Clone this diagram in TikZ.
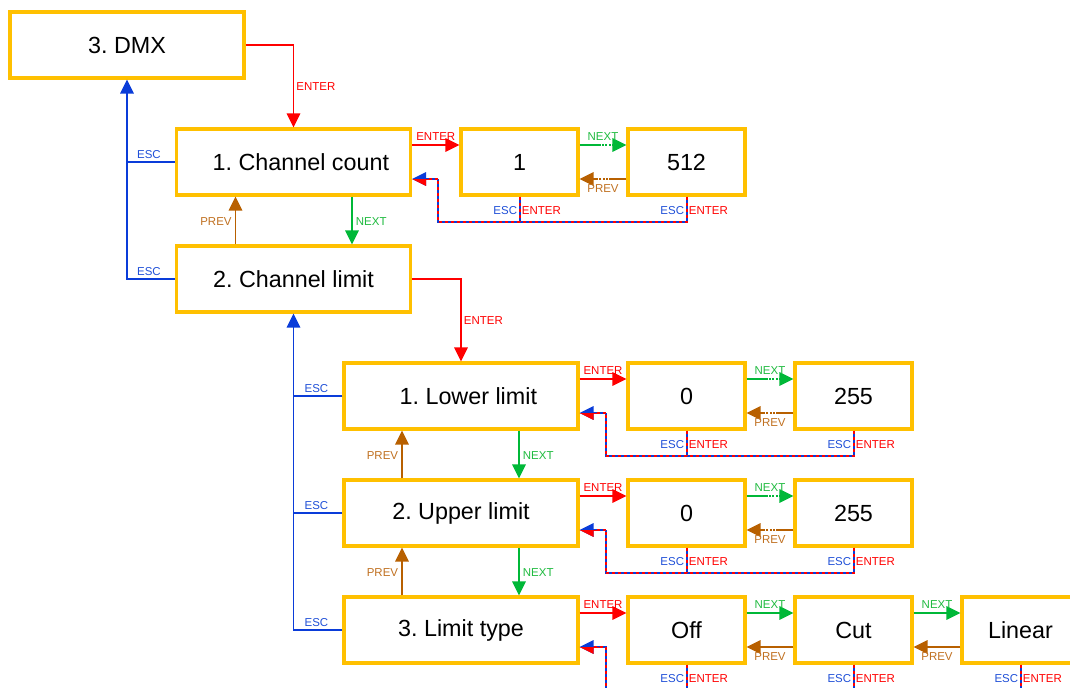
\documentclass[tikz,border=0pt]{standalone}
\usepackage{fontspec}
\setmainfont{Liberation Sans}
\usetikzlibrary{arrows.meta,calc}
\definecolor{boxo}{HTML}{FFC000}
\definecolor{cred}{HTML}{FF0000}
\definecolor{cblue}{HTML}{0A3CD9}
\definecolor{cgreen}{HTML}{00B838}
\definecolor{cbrown}{HTML}{B86000}
\definecolor{tblue}{HTML}{2050D8}
\definecolor{tgreen}{HTML}{20BB40}
\definecolor{tbrown}{HTML}{C07020}
\newcommand\myreturnend[2]{% start coordinate, main node
  \draw[retblue,-{Triangle[length=10.5pt,width=10pt]}] (#1) |- ($(#2.east)+(0,17)$);
  \begin{scope}
    \clip ($(#2.east)+(0,17)$) rectangle ($(#2.east)+(20,30)$);
    \draw[retblue,draw=cred,-{Triangle[length=10.5pt,width=10pt]}] (#1) |- ($(#2.east)+(0,17)$);
  \end{scope}
  \draw[retred] (#1) |- ($(#2.east)+(14,17)$);
}
\newcommand\myreturn[3]{%
  \coordinate (tmpa) at ($(#3.south)+(0,25.5)$);
  \coordinate (tmpb) at ($(#1.east)+(26,17)$);
  \draw[retblue] (#3.south) -- (tmpa) -| (tmpb);
  \draw[retred] (#3.south) -- (tmpa) -| (tmpb);
  \myreturnend{tmpb}{#1}
  \draw[retblue] (#2.south) -- ++(0,25.5);
  \draw[retred] (#2.south) -- ++(0,25.5);
  \node[lab,text=tblue,anchor=east] at ($(#2.south)+(-1.5,14)$) {ESC};
  \node[lab,text=cred,anchor=west] at ($(#2.south)+(1.5,14)$) {ENTER};
  \node[lab,text=tblue,anchor=east] at ($(#3.south)+(-1.5,14)$) {ESC};
  \node[lab,text=cred,anchor=west] at ($(#3.south)+(1.5,14)$) {ENTER};
}
\begin{document}
\frenchspacing
\begin{tikzpicture}[x=0.75pt,y=-0.75pt,
  box/.style={draw=boxo,line width=2.3pt,fill=white,minimum height=49.5pt,inner sep=0pt,font=\fontsize{17.5}{20}\selectfont},
  wide/.style={box,minimum width=175.5pt},
  narrow/.style={box,minimum width=87.75pt},
  conn/.style={line width=1.4pt,-{Triangle[length=10.5pt,width=10pt]}},
  cline/.style={line width=1.4pt},
  enter/.style={conn,draw=cred},
  esc/.style={conn,draw=cblue},
  nxt/.style={conn,draw=cgreen},
  prv/.style={conn,draw=cbrown},
  nextdots/.style={dash pattern=on 15.75pt off 1.1pt on 1.5pt off 1.1pt on 1.5pt off 1.1pt on 1.5pt off 1.1pt on 60pt},
  prevdots/.style={dash pattern=on 12.75pt off 1.1pt on 1.5pt off 1.1pt on 1.5pt off 1.1pt on 1.5pt off 1.1pt on 60pt},
  retblue/.style={line width=1.5pt,draw=cblue},
  retred/.style={line width=1.5pt,draw=cred,dash pattern=on 2.25pt off 2.25pt},
  lab/.style={font=\fontsize{8.6}{10}\selectfont,inner sep=0.5pt}
]
\clip (0,0) rectangle (1070,688);
\fill[white] (0,0) rectangle (1070,688);

% nodes
\node[wide] (dmx) at (127,45) {3. DMX};
\node[wide] (cc) at (293.5,162) {\hspace*{11pt}1. Channel count};
\node[narrow] (v1) at (519.5,162) {1};
\node[narrow] (v512) at (686.5,162) {512};
\node[wide] (cl) at (293.5,279) {2. Channel limit};
\node[wide] (ll) at (461,396) {\hspace*{11pt}1. Lower limit};
\node[narrow] (l0) at (686.5,396) {0};
\node[narrow] (l255) at (853.5,396) {255};
\node[wide] (ul) at (461,513) {2. Upper limit};
\node[narrow] (u0) at (686.5,513) {0};
\node[narrow] (u255) at (853.5,513) {255};
\node[wide] (lt) at (461,630) {3. Limit type};
\node[narrow] (off) at (686.5,630) {Off};
\node[narrow] (cut) at (853.5,630) {Cut};
\node[narrow] (lin) at (1020.5,630) {Linear};

% DMX level
\draw[enter] (dmx.east) -| (cc.north);
\node[lab,text=cred,anchor=west] at ($(cc.north)+(2,-40.5)$) {ENTER};
\draw[esc] (cl.west) -| (dmx.south);
\draw[cline,draw=cblue] (cc.west) -- (cc.west -| dmx.south);
\node[lab,text=tblue] at ($(cc.west)+(-26,-7)$) {ESC};
\node[lab,text=tblue] at ($(cl.west)+(-26,-7)$) {ESC};
\draw[prv] ($(cl.north)+(-58,0)$) -- ($(cc.south)+(-58,0)$);
\node[lab,text=tbrown,anchor=east] at ($(cc.south)+(-61,25.5)$) {PREV};
\draw[nxt] ($(cc.south)+(58.5,0)$) -- ($(cl.north)+(58.5,0)$);
\node[lab,text=tgreen,anchor=west] at ($(cc.south)+(61.5,25.5)$) {NEXT};

% channel count values
\draw[enter] ($(cc.east)+(0,-17)$) -- ($(v1.west)+(0,-17)$) node[midway,lab,text=cred,yshift=6.5pt]{ENTER};
\draw[nxt,nextdots] ($(v1.east)+(0,-17)$) -- ($(v512.west)+(0,-17)$) node[midway,lab,text=tgreen,yshift=6.5pt]{NEXT};
\draw[prv,prevdots] ($(v512.west)+(0,17)$) -- ($(v1.east)+(0,17)$) node[midway,lab,text=tbrown,yshift=-6.8pt]{PREV};
\myreturn{cc}{v1}{v512}

% channel limit
\draw[enter] (cl.east) -| (ll.north);
\node[lab,text=cred,anchor=west] at ($(ll.north)+(2,-40.5)$) {ENTER};
\draw[esc] (lt.west) -| (cl.south);
\draw[cline,draw=cblue] (ll.west) -- (ll.west -| cl.south);
\draw[cline,draw=cblue] (ul.west) -- (ul.west -| cl.south);
\node[lab,text=tblue] at ($(ll.west)+(-26,-7)$) {ESC};
\node[lab,text=tblue] at ($(ul.west)+(-26,-7)$) {ESC};
\node[lab,text=tblue] at ($(lt.west)+(-26,-7)$) {ESC};

\draw[prv] ($(ul.north)+(-59,0)$) -- ($(ll.south)+(-59,0)$);
\node[lab,text=tbrown,anchor=east] at ($(ll.south)+(-62,25.5)$) {PREV};
\draw[nxt] ($(ll.south)+(58,0)$) -- ($(ul.north)+(58,0)$);
\node[lab,text=tgreen,anchor=west] at ($(ll.south)+(61,25.5)$) {NEXT};
\draw[prv] ($(lt.north)+(-59,0)$) -- ($(ul.south)+(-59,0)$);
\node[lab,text=tbrown,anchor=east] at ($(ul.south)+(-62,25.5)$) {PREV};
\draw[nxt] ($(ul.south)+(58,0)$) -- ($(lt.north)+(58,0)$);
\node[lab,text=tgreen,anchor=west] at ($(ul.south)+(61,25.5)$) {NEXT};

% lower limit values
\draw[enter] ($(ll.east)+(0,-17)$) -- ($(l0.west)+(0,-17)$) node[midway,lab,text=cred,yshift=6.5pt]{ENTER};
\draw[nxt,nextdots] ($(l0.east)+(0,-17)$) -- ($(l255.west)+(0,-17)$) node[midway,lab,text=tgreen,yshift=6.5pt]{NEXT};
\draw[prv,prevdots] ($(l255.west)+(0,17)$) -- ($(l0.east)+(0,17)$) node[midway,lab,text=tbrown,yshift=-6.8pt]{PREV};
\myreturn{ll}{l0}{l255}

% upper limit values
\draw[enter] ($(ul.east)+(0,-17)$) -- ($(u0.west)+(0,-17)$) node[midway,lab,text=cred,yshift=6.5pt]{ENTER};
\draw[nxt,nextdots] ($(u0.east)+(0,-17)$) -- ($(u255.west)+(0,-17)$) node[midway,lab,text=tgreen,yshift=6.5pt]{NEXT};
\draw[prv,prevdots] ($(u255.west)+(0,17)$) -- ($(u0.east)+(0,17)$) node[midway,lab,text=tbrown,yshift=-6.8pt]{PREV};
\myreturn{ul}{u0}{u255}

% limit type values
\draw[enter] ($(lt.east)+(0,-17)$) -- ($(off.west)+(0,-17)$) node[midway,lab,text=cred,yshift=6.5pt]{ENTER};
\draw[nxt] ($(off.east)+(0,-17)$) -- ($(cut.west)+(0,-17)$) node[midway,lab,text=tgreen,yshift=6.5pt]{NEXT};
\draw[nxt] ($(cut.east)+(0,-17)$) -- ($(lin.west)+(0,-17)$) node[midway,lab,text=tgreen,yshift=6.5pt]{NEXT};
\draw[prv] ($(cut.west)+(0,17)$) -- ($(off.east)+(0,17)$) node[midway,lab,text=tbrown,yshift=-6.8pt]{PREV};
\draw[prv] ($(lin.west)+(0,17)$) -- ($(cut.east)+(0,17)$) node[midway,lab,text=tbrown,yshift=-6.8pt]{PREV};
\coordinate (ltret) at ($(lt.east)+(26,80)$);
\myreturnend{ltret}{lt}
\foreach \n in {off,cut,lin}{
  \draw[retblue] (\n.south) -- ++(0,40);
  \draw[retred] (\n.south) -- ++(0,40);
  \node[lab,text=tblue,anchor=east] at ($(\n.south)+(-1.5,14)$) {ESC};
  \node[lab,text=cred,anchor=west] at ($(\n.south)+(1.5,14)$) {ENTER};
}
\end{tikzpicture}
\end{document}
